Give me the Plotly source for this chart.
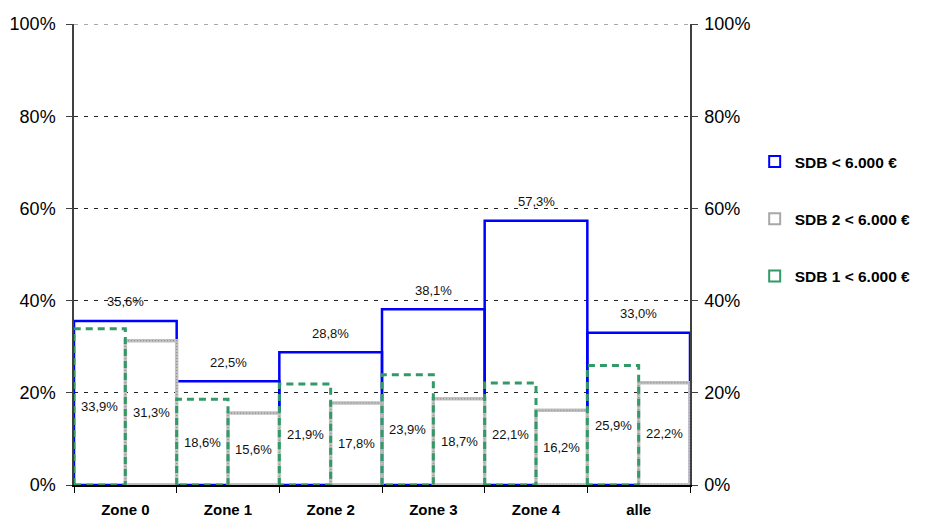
import plotly.graph_objects as go

zones = ["Zone 0", "Zone 1", "Zone 2", "Zone 3", "Zone 4", "alle"]
sdb_total = [35.6, 22.5, 28.8, 38.1, 57.3, 33.0]
sdb_1 = [33.9, 18.6, 21.9, 23.9, 22.1, 25.9]
sdb_2 = [31.3, 15.6, 17.8, 18.7, 16.2, 22.2]
y_ticks = [0, 20, 40, 60, 80, 100]
y_tick_labels = ["0%", "20%", "40%", "60%", "80%", "100%"]
names = ["SDB < 6.000 €", "SDB 2 < 6.000 €", "SDB 1 < 6.000 €"]

BLUE = "#0000FF"
GREEN = "#339966"
GRAY = "#C0C0C0"
FONT = "Liberation Sans, Arial, sans-serif"


def outline(values, left_off, right_off):
    xs, ys = [], []
    for i, v in enumerate(values):
        l, r = i + left_off, i + right_off
        xs += [l, l, r, r, l, None]
        ys += [0, v, v, 0, 0, None]
    return xs, ys


def fmt(v):
    return f"{v:.1f}".replace(".", ",") + "%"


fig = go.Figure()

bx, by = outline(sdb_total, -0.5, 0.5)
fig.add_trace(go.Scatter(x=bx, y=by, mode="lines", line=dict(color=BLUE, width=2.5),
                         showlegend=False, hoverinfo="skip"))
gx, gy = outline(sdb_2, 0.0, 0.5)
fig.add_trace(go.Scatter(x=gx, y=gy, mode="lines", line=dict(color=GRAY, width=3.5),
                         showlegend=False, hoverinfo="skip"))
fig.add_trace(go.Scatter(x=gx, y=gy, mode="lines", line=dict(color="#909090", width=1.2, dash="1px,2px"),
                         showlegend=False, hoverinfo="skip"))
ex, ey = outline(sdb_1, -0.5, 0.0)
fig.add_trace(go.Scatter(x=ex, y=ey, mode="lines", line=dict(color=GREEN, width=3, dash="7px,5px"),
                         showlegend=False, hoverinfo="skip"))

legend_colors = [BLUE, "#A8A8A8", GREEN]
for k, (nm, c) in enumerate(zip(names, legend_colors)):
    fig.add_trace(go.Scatter(x=[None], y=[None], mode="markers", name=f"<b>{nm}</b>", legendgroup=str(k),
                             marker=dict(symbol="square-open", size=11, color=c,
                                         line=dict(color=c, width=2))))

fig.add_trace(go.Scatter(x=[None], y=[None], yaxis="y2", showlegend=False, hoverinfo="skip"))

ann = []
for i, v in enumerate(sdb_total):
    ann.append(dict(x=i, y=v, text=fmt(v), showarrow=False, yshift=19,
                    font=dict(size=13, color="#111", family=FONT)))
for i, v in enumerate(sdb_1):
    ann.append(dict(x=i - 0.25, y=v / 2, text=fmt(v), showarrow=False,
                    font=dict(size=13, color="#111", family=FONT)))
for i, v in enumerate(sdb_2):
    ann.append(dict(x=i + 0.25, y=v / 2, text=fmt(v), showarrow=False,
                    font=dict(size=13, color="#111", family=FONT)))

yax = dict(range=[0, 100], tickmode="array", tickvals=y_ticks, ticktext=y_tick_labels,
           ticks="outside", ticklen=6, automargin=False,
           tickcolor="#404040", showline=True, linecolor="#404040", linewidth=1.5,
           tickfont=dict(size=18, color="#000", family=FONT), zeroline=False, fixedrange=True)

fig.update_layout(
    width=926, height=518,
    margin=dict(l=66, r=244, t=16, b=41, autoexpand=False),
    plot_bgcolor="white", paper_bgcolor="white",
    font=dict(family=FONT),
    xaxis=dict(range=[-0.5, 5.5], tickmode="array", tickvals=list(range(len(zones))),
               ticktext=[f"<b>{z}</b>" for z in zones], ticks="", ticklabelstandoff=10,
               automargin=False,
               tickfont=dict(size=15, color="#000", family=FONT), showgrid=False, zeroline=False,
               showline=True, linecolor="#000", linewidth=1.5,
               minor=dict(tickvals=[i - 0.5 for i in range(len(zones) + 1)], ticks="outside",
                          ticklen=6, tickcolor="#000", showgrid=False)),
    yaxis=dict(**yax, showgrid=True, gridcolor="#222", gridwidth=1, griddash="4px,6px",
               ticklabelstandoff=7),
    yaxis2=dict(**yax, overlaying="y", side="right", showgrid=False, ticklabelstandoff=3),
    shapes=[dict(type="line", xref="paper", x0=0, x1=1, yref="y", y0=y_ticks[-1], y1=y_ticks[-1],
                 line=dict(color="#555", width=1, dash="4px,6px"), layer="below")],
    showlegend=True,
    legend=dict(x=1.105, y=0.7375, xanchor="left", yanchor="top", traceorder="grouped",
                tracegroupgap=34, itemwidth=30, bgcolor="rgba(0,0,0,0)",
                font=dict(size=15.5, color="#000", family=FONT)),
    annotations=ann,
)

fig.write_html("out.html")
